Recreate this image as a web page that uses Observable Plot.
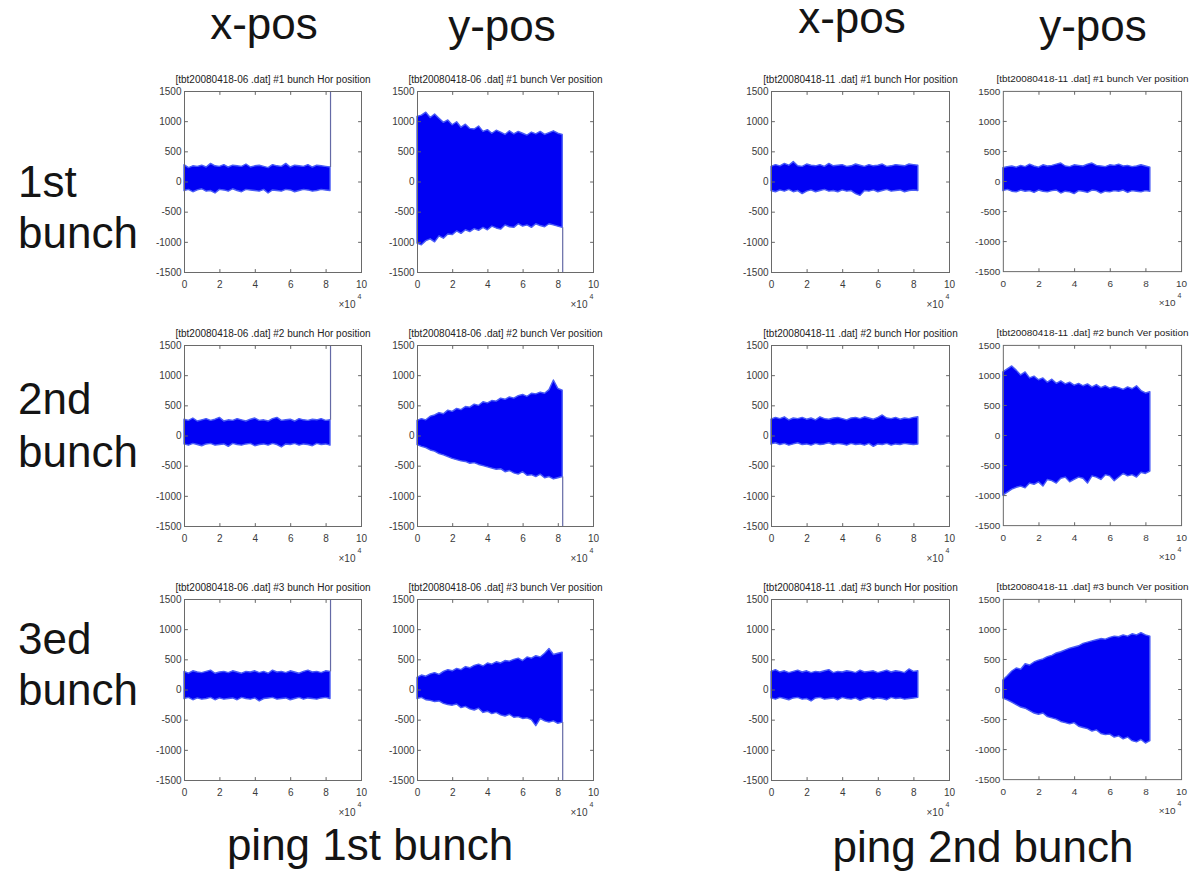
<!DOCTYPE html>
<html><head><meta charset="utf-8">
<script src="https://cdn.jsdelivr.net/npm/d3@7"></script>
<script src="https://cdn.jsdelivr.net/npm/@observablehq/plot@0.6"></script>
<style>
body{margin:0;background:#fff;width:1197px;height:871px;position:relative;overflow:hidden;font-family:"Liberation Sans",Arial,sans-serif;}
.lbl{position:absolute;font-size:44px;color:#141414;line-height:0.7;white-space:nowrap;}
.pnl{position:absolute;}
</style></head><body>
<script>
// ---- data, turn number in units of 10^4 ----
const turns = [0,0.25,0.5,0.75,1,1.25,1.5,1.75,2,2.25,2.5,2.75,3,3.25,3.5,3.75,4,4.25,4.5,4.75,5,5.25,5.5,5.75,6,6.25,6.5,6.75,7,7.25,7.5,7.75,8,8.25];
const xTicks = [0,2,4,6,8,10];
const yTicks = [-1500,-1000,-500,0,500,1000,1500];
const columnHeads = ["x-pos","y-pos","x-pos","y-pos"];
const rowHeads = [["1st","bunch"],["2nd","bunch"],["3ed","bunch"]];
const groupLabels = ["ping 1st bunch","ping 2nd bunch"];
const runs = ["06","11"];
const planes = ["Hor","Ver"];

// ping 1st bunch (file -06): envelope upper / lower
const a1xHi = [280,230,260,250,270,240,300,260,250,280,240,270,260,250,290,240,260,270,250,230,280,260,250,300,240,270,260,250,280,240,270,260,250,240];
const a1xLo = [-150,-130,-170,-140,-120,-160,-150,-190,-130,-140,-160,-120,-150,-170,-130,-140,-150,-160,-130,-190,-140,-150,-160,-130,-140,-170,-150,-130,-140,-160,-150,-130,-140,-150];
const a1yHi = [1080,1100,1150,1060,1120,1050,980,1020,940,990,900,950,880,870,920,830,860,800,850,820,780,840,790,830,800,770,820,790,830,780,810,840,800,780];
const a1yLo = [-1020,-1050,-980,-950,-1000,-900,-940,-870,-880,-820,-860,-800,-830,-780,-810,-760,-800,-740,-770,-790,-720,-750,-760,-700,-740,-720,-760,-700,-730,-750,-700,-720,-740,-760];
const a2xHi = [270,250,290,240,260,280,250,270,300,240,260,250,280,260,240,270,290,250,260,240,280,300,250,260,270,240,280,260,250,270,260,280,250,260];
const a2xLo = [-140,-160,-130,-150,-170,-140,-130,-160,-150,-140,-180,-130,-150,-160,-140,-130,-170,-150,-140,-160,-130,-150,-190,-140,-150,-130,-160,-140,-150,-170,-130,-150,-140,-160];
const a2yHi = [250,280,260,320,340,380,360,420,400,450,430,480,470,520,500,560,540,580,570,620,600,640,620,660,680,650,700,690,720,700,760,920,780,750];
const a2yLo = [-150,-180,-200,-240,-260,-300,-320,-350,-380,-400,-420,-430,-460,-450,-480,-500,-520,-540,-560,-550,-600,-580,-620,-640,-600,-660,-650,-680,-640,-700,-680,-720,-700,-680];
const a3xHi = [300,270,310,290,280,300,320,270,290,300,280,310,290,270,300,290,310,280,300,270,320,290,300,280,310,290,270,300,320,290,300,280,310,300];
const a3xLo = [-150,-130,-170,-140,-160,-150,-130,-170,-140,-160,-150,-140,-170,-130,-150,-160,-140,-190,-150,-140,-130,-160,-150,-140,-170,-150,-130,-160,-140,-150,-160,-140,-130,-150];
const a3yHi = [200,240,220,260,280,250,300,330,310,350,330,380,360,400,420,390,440,420,460,440,480,470,500,520,480,540,520,560,540,600,680,580,600,620];
const a3yLo = [-150,-130,-170,-180,-200,-190,-230,-250,-260,-240,-300,-280,-320,-340,-310,-380,-360,-400,-380,-420,-440,-410,-460,-450,-480,-470,-500,-600,-480,-520,-540,-520,-560,-540];

// ping 2nd bunch (file -11)
const b1xHi = [250,280,260,300,270,330,260,250,290,270,260,280,250,300,260,270,280,250,260,290,270,250,280,260,270,290,250,260,280,270,260,290,280,270];
const b1xLo = [-150,-170,-140,-160,-130,-170,-150,-200,-160,-140,-170,-150,-130,-160,-150,-170,-140,-160,-150,-200,-230,-150,-160,-140,-170,-150,-130,-160,-150,-140,-170,-150,-140,-150];
const b1yHi = [220,240,250,230,260,240,280,250,230,270,250,260,280,300,250,240,270,260,250,280,300,260,250,240,270,260,280,250,260,240,250,270,250,230];
const b1yLo = [-160,-140,-170,-180,-150,-170,-160,-190,-150,-170,-180,-160,-150,-200,-170,-180,-210,-160,-170,-190,-150,-160,-200,-170,-180,-160,-170,-150,-190,-160,-170,-180,-160,-170];
const b2xHi = [270,300,280,310,260,290,280,300,270,290,260,310,280,270,290,300,280,260,290,300,280,310,290,270,300,340,290,280,300,270,290,280,300,310];
const b2xLo = [-140,-120,-150,-130,-160,-140,-120,-150,-140,-160,-130,-150,-140,-120,-150,-130,-140,-160,-130,-150,-140,-160,-130,-180,-140,-150,-130,-160,-140,-150,-130,-140,-150,-140];
const b2yHi = [1050,1100,1150,1080,1000,1050,950,980,920,950,880,930,860,900,850,880,830,860,820,850,800,840,790,820,780,810,790,760,800,770,820,740,700,720];
const b2yLo = [-1000,-950,-900,-870,-850,-880,-800,-820,-780,-850,-740,-760,-800,-720,-700,-780,-740,-700,-720,-800,-680,-700,-740,-660,-680,-760,-700,-640,-680,-660,-700,-620,-640,-600];
const b3xHi = [300,330,290,310,280,300,320,290,310,280,300,290,310,330,280,300,290,310,300,280,320,290,300,310,280,300,320,290,310,300,280,340,300,310];
const b3xLo = [-140,-160,-130,-150,-170,-140,-130,-160,-150,-190,-140,-130,-160,-150,-140,-170,-130,-150,-160,-140,-180,-150,-130,-160,-140,-150,-170,-130,-150,-140,-160,-150,-140,-130];
const b3yHi = [150,220,300,350,330,420,400,450,480,500,540,560,600,620,650,680,700,720,760,780,800,820,840,830,860,880,870,900,880,920,900,940,900,880];
const b3yLo = [-150,-180,-220,-260,-300,-320,-360,-400,-420,-400,-460,-480,-500,-540,-560,-580,-560,-620,-640,-660,-700,-680,-740,-760,-750,-800,-780,-830,-800,-860,-880,-840,-900,-860];

// ---- layout ----
const colLeft = [184, 417, 771, 1003];
const colWidth = [177, 176, 178, 179];
const rowTop = [91, 345, 599];
const frameH = 181;
const ML = 40, MR = 16, MT = 24, MB = 52;

const panels = [
  {r:0,c:0,hi:a1xHi,lo:a1xLo,spike:"up"},  {r:0,c:1,hi:a1yHi,lo:a1yLo,spike:"down"},
  {r:1,c:0,hi:a2xHi,lo:a2xLo,spike:"up"},  {r:1,c:1,hi:a2yHi,lo:a2yLo,spike:"down"},
  {r:2,c:0,hi:a3xHi,lo:a3xLo,spike:"up"},  {r:2,c:1,hi:a3yHi,lo:a3yLo,spike:"down"},
  {r:0,c:2,hi:b1xHi,lo:b1xLo},  {r:0,c:3,hi:b1yHi,lo:b1yLo},
  {r:1,c:2,hi:b2xHi,lo:b2xLo},  {r:1,c:3,hi:b2yHi,lo:b2yLo},
  {r:2,c:2,hi:b3xHi,lo:b3xLo},  {r:2,c:3,hi:b3yHi,lo:b3yLo}
];

const tickShape = {draw(ctx, l) { ctx.moveTo(0, 0); ctx.lineTo(0, -l); }};
const tickOpts = {length: 3, anchor: "start", shape: tickShape, stroke: "#666", strokeWidth: 1};

for (const p of panels) {
  const data = turns.map((t, i) => ({t, hi: p.hi[i], lo: p.lo[i]}));
  const last = data[data.length - 1];
  const run = runs[p.c < 2 ? 0 : 1];
  const plane = planes[p.c % 2];
  const title = `[tbt20080418-${run} .dat] #${p.r + 1} bunch ${plane} position`;
  const fw = colWidth[p.c];
  const marks = [
    Plot.areaY(data, {x: "t", y1: "lo", y2: "hi", fill: "#0000f4", stroke: "#4a5cf6", strokeWidth: 1.4})
  ];
  if (p.spike) {
    marks.push(Plot.ruleX([last], {
      x: "t",
      y1: p.spike === "up" ? "hi" : "lo",
      y2: p.spike === "up" ? yTicks[yTicks.length - 1] : yTicks[0],
      stroke: "#646aa6", strokeWidth: 1.2
    }));
  }
  marks.push(
    Plot.frame({stroke: "#6a6a6a", strokeWidth: 1}),
    Plot.axisX({ticks: xTicks, tickSize: 0, tickPadding: 8, fontSize: 10, fill: "#3a3a3a", label: null, tickFormat: d => String(d)}),
    Plot.axisY({ticks: yTicks, tickSize: 0, tickPadding: 3, fontSize: 10, fill: "#3a3a3a", label: null, tickFormat: d => String(d)}),
    Plot.vector(xTicks.slice(1, -1), {x: d => d, frameAnchor: "bottom", rotate: 0, ...tickOpts}),
    Plot.vector(xTicks.slice(1, -1), {x: d => d, frameAnchor: "top", rotate: 180, ...tickOpts}),
    Plot.vector(yTicks.slice(1, -1), {y: d => d, frameAnchor: "left", rotate: 90, ...tickOpts}),
    Plot.vector(yTicks.slice(1, -1), {y: d => d, frameAnchor: "right", rotate: -90, ...tickOpts}),
    Plot.text([title], {frameAnchor: "top", lineAnchor: "bottom", dy: -9, fontSize: 10, fill: "#222"}),
    Plot.text(["×10"], {frameAnchor: "bottom-right", textAnchor: "end", dy: 35, dx: -6, fontSize: 10, fill: "#3a3a3a"}),
    Plot.text(["4"], {frameAnchor: "bottom-right", textAnchor: "start", dy: 26, dx: -4, fontSize: 7, fill: "#3a3a3a"})
  );
  const svg = Plot.plot({
    width: fw + ML + MR, height: frameH + MT + MB,
    marginLeft: ML, marginRight: MR, marginTop: MT, marginBottom: MB,
    x: {domain: [xTicks[0], xTicks[xTicks.length - 1]], label: null},
    y: {domain: [yTicks[0], yTicks[yTicks.length - 1]], label: null},
    style: {background: "transparent", fontFamily: "Liberation Sans, Arial, sans-serif", overflow: "visible"},
    marks
  });
  const div = document.createElement("div");
  div.className = "pnl";
  div.style.left = (colLeft[p.c] - ML) + "px";
  div.style.top = (rowTop[p.r] - MT) + "px";
  div.appendChild(svg);
  document.body.appendChild(div);
}

// ---- big text labels (line-height 0.7 -> baseline ~31px below box top) ----
function label(text, x, baseline, center) {
  const d = document.createElement("div");
  d.className = "lbl";
  d.textContent = text;
  d.style.left = x + "px";
  d.style.top = (baseline - 31) + "px";
  if (center) d.style.transform = "translateX(-50%)";
  document.body.appendChild(d);
}
const headX = [264, 502, 852, 1093];
const headBase = [40, 42, 34, 42];
columnHeads.forEach((h, i) => label(h, headX[i], headBase[i], true));
const rowBase = [[198, 249], [415, 468], [655, 706]];
rowHeads.forEach((lines, i) => lines.forEach((t, j) => label(t, 18, rowBase[i][j], false)));
label(groupLabels[0], 370, 861, true);
label(groupLabels[1], 983, 863, true);
</script>
</body></html>
